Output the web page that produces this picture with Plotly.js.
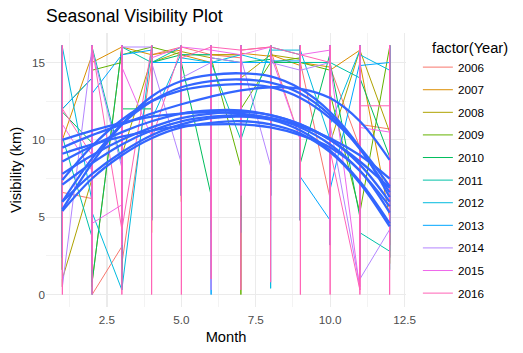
<!DOCTYPE html>
<html>
<head>
<meta charset="utf-8">
<script src="https://cdn.plot.ly/plotly-3.0.1.min.js"></script>
<style>html,body{margin:0;padding:0;background:#fff;}#chart{width:523px;height:353px;}</style>
</head>
<body>
<div id="chart"></div>
<script>
// ---- data ----
const months = [1, 2, 3, 4, 5, 6, 7, 8, 9, 10, 11, 12];
const years = ['2006', '2007', '2008', '2009', '2010', '2011', '2012', '2013', '2014', '2015', '2016'];
const yearColors = ['#F8766D', '#DB8E00', '#AEA200', '#64B200', '#00BD5C', '#00C1A7', '#00BADE', '#00A6FF', '#B385FF', '#EF67EB', '#FF63B6'];

// visibility (km) observed in each month, in data order: one list per month
const vis2006 = [[9.7,16.1,3.2,6.6],[6.2,16.1,0,0],[3.1,16.1,0.5,2],[15,16.1,4.8,15.5],[16,16.1,8,16],[15.5,16.1,6.4,15.5],[15.3,16.1,4.8,15.8],[16,16.1,8,15.8],[10,16.1,4.8,15],[6.2,16.1,3.2,14.7],[9.5,16.1,1.6,11],[10.7,16.1,2.4,8]];
const vis2007 = [[12,16.1,1.6,10],[15.5,16.1,3.2,15],[16,16.1,1.6,16],[15.5,16.1,4,15.5],[15.8,16.1,6,15.5],[15,16.1,8,15.5],[15.5,16.1,6.4,15.6],[15.4,16.1,8,15.5],[14.8,16.1,4.8,15],[14.7,16.1,3.2,14.5],[15.8,16.1,1.6,15],[5,16.1,2,9]];
const vis2008 = [[11,16.1,0.5,1],[7.5,16.1,0.5,0.8],[16,16.1,2,9],[15.3,16.1,5,15],[15.7,16.1,6.4,15.7],[15.3,16.1,8,15.5],[15.5,16.1,5,14],[15.5,16.1,8,15.5],[15.2,16.1,6.4,15],[15,16.1,4,9.8],[15.8,16.1,2.4,15.8],[10.5,16.1,3.2,12]];
const vis2009 = [[3.7,16.1,1.6,12],[14,16.1,2.4,14.5],[15,16.1,3.2,15.5],[16,16.1,6.4,16],[15.5,16.1,8,15.5],[15.5,16.1,6.4,15.3],[8.2,16.1,0,12],[15,16.1,6.4,15],[15.3,16.1,4.8,15],[14.5,16.1,4,13],[5.3,16.1,1.6,5.3],[16,16.1,3.2,11]];
const vis2010 = [[6,16.1,2.4,11.8],[9.8,16.1,0.8,0.8],[16,16.1,1.6,12],[12,16.1,4.8,15],[15.5,16.1,6.4,15],[6.4,16.1,4,15.3],[15,16.1,6.4,15],[15.2,16.1,8,15],[15,16.1,4.8,8.5],[15.6,16.1,4,15],[5,16.1,2.4,14],[8.9,16.1,2.4,7]];
const vis2011 = [[8,16.1,1.6,10.2],[3.7,16.1,1.6,16],[8.5,16.1,3.2,16],[15,16.1,6.4,15],[16,16.1,8,15.5],[15.5,16.1,6.4,15],[10,16.1,4,10],[16,16.1,6.4,16],[15.5,16.1,4.8,15],[15,16.1,4,15],[14,16.1,1.6,4],[2.8,16.1,1.6,8]];
const vis2012 = [[7,16.1,2.4,16],[6,16.1,0,5.3],[0.3,16.1,0.3,0.3],[16,16.1,4.8,11.3],[15.6,16.1,6.4,15.3],[15,16.1,8,15],[15.5,16.1,6.4,15.5],[15,16.1,0.4,15.8],[15.8,16.1,4.8,15.8],[10,16.1,4,11],[15.8,16.1,2.4,15.5],[14.5,16.1,4,9]];
const vis2013 = [[5,16.1,2.4,12],[14,16.1,1.6,13],[15.5,16.1,2.4,15.5],[15.8,16.1,4.8,15],[15,16.1,6.4,15],[15,16.1,0,15],[15,16.1,6.4,15],[15,16.1,6.4,15.1],[15.1,16.1,4.8,7.6],[4.8,16.1,3.2,6.8],[15,16.1,1.6,14.8],[15,16.1,4,10]];
const vis2014 = [[9,16.1,0.5,0.5],[16,16.1,3.2,15.8],[8.2,16.1,4,16],[16,16.1,6.4,15],[8.5,16.1,6.4,14],[15,16.1,0.3,15.3],[15,16.1,6.4,15.3],[8.3,16.1,4.8,15],[14.5,16.1,4.8,14.5],[15,16.1,3.2,11],[0.5,16.1,0.5,1],[4.2,16.1,2.4,8]];
const vis2015 = [[7,16.1,2.4,11],[8,16.1,1.6,4.6],[5.8,16.1,3.2,14.7],[10.2,16.1,4.8,15.3],[16,16.1,6.4,16],[15.8,16.1,4.8,15.8],[15.5,16.1,6.4,15.5],[16,16.1,6.4,15.5],[10,16.1,4.8,15.5],[15.8,16.1,4,15],[0.3,16.1,0.3,10.8],[10.5,16.1,3.2,9]];
const vis2016 = [[6,16.1,0,12],[9,0,16.1,16],[4.2,16.1,0,4.2],[16,0,16.1,10],[16,0,16.1,15.3],[16,1.0,16.1,16],[15.8,0.3,16.1,15.8],[16,0.8,16.1,16],[15.5,0,16.1,15.5],[15,0,16.1,9.3],[0.3,16.1,0,12.2],[12.2,0,16.1,10]];

// smoothed (loess) visibility per year, read at each month
const fit01 = [5.5, 8.5, 11.0, 12.8, 13.8, 14.2, 14.3, 14.1, 13.3, 11.8, 9.5, 6.3];
const fit02 = [6.0, 8.8, 11.0, 12.5, 13.4, 13.8, 13.9, 13.7, 13.0, 11.6, 9.4, 6.6];
const fit03 = [7.4, 9.6, 11.3, 12.5, 13.2, 13.5, 13.6, 13.4, 12.7, 11.4, 9.5, 7.0];
const fit04 = [9.5, 10.3, 11.0, 11.7, 12.3, 12.8, 13.2, 13.4, 13.3, 12.7, 11.2, 8.7];
const fit05 = [8.6, 9.6, 10.5, 11.2, 11.7, 11.9, 11.9, 11.6, 11.0, 10.0, 8.6, 6.9];
const fit06 = [10.0, 10.6, 11.1, 11.5, 11.7, 11.8, 11.7, 11.4, 10.9, 10.1, 9.0, 7.5];
const fit07 = [7.8, 9.0, 10.0, 10.8, 11.4, 11.7, 11.8, 11.6, 11.0, 10.0, 8.4, 6.0];
const fit08 = [7.1, 8.5, 9.7, 10.6, 11.2, 11.5, 11.6, 11.4, 10.8, 9.7, 8.0, 5.7];
const fit09 = [6.0, 7.8, 9.2, 10.3, 11.0, 11.4, 11.5, 11.3, 10.6, 9.3, 7.3, 4.6];
const fit10 = [9.1, 9.7, 10.2, 10.6, 10.9, 11.0, 11.0, 10.8, 10.3, 9.5, 8.0, 5.3];
const fit11 = [5.4, 7.5, 9.0, 10.1, 10.8, 11.1, 11.2, 11.0, 10.4, 9.2, 7.2, 4.4];

const xTickVals = [2.5, 5, 7.5, 10, 12.5];
const xTickText = ['2.5', '5.0', '7.5', '10.0', '12.5'];
const yTickVals = [0, 5, 10, 15];
const yTickText = ['0', '5', '10', '15'];

// ---- build traces ----
const visByYear = [vis2006, vis2007, vis2008, vis2009, vis2010, vis2011, vis2012, vis2013, vis2014, vis2015, vis2016];
const fits = [fit01, fit02, fit03, fit04, fit05, fit06, fit07, fit08, fit09, fit10, fit11];

const traces = [];
years.forEach((yr, i) => {
  const xs = [], ys = [];
  visByYear[i].forEach((vals, m) => {
    vals.forEach(v => { xs.push(months[m]); ys.push(v); });
  });
  traces.push({
    type: 'scatter', mode: 'lines', x: xs, y: ys, name: yr,
    legendgroup: yr,
    line: {color: yearColors[i], width: 1},
    hoverinfo: 'skip'
  });
});
fits.forEach(f => {
  traces.push({
    type: 'scatter', mode: 'lines', x: months, y: f, showlegend: false,
    line: {color: '#3366FF', width: 2.3, shape: 'spline', smoothing: 1},
    hoverinfo: 'skip'
  });
});

const gridCol = '#EBEBEB';
const layout = {
  width: 523, height: 353,
  margin: {l: 46, r: 113, t: 33, b: 46, pad: 0},
  paper_bgcolor: '#ffffff', plot_bgcolor: '#ffffff',
  font: {family: 'Liberation Sans, Arial, sans-serif', color: '#000000'},
  showlegend: true,
  title: {
    text: 'Seasonal Visibility Plot',
    x: 0, xref: 'paper', xanchor: 'left',
    y: 1 - 16 / 353, yref: 'container', yanchor: 'middle',
    font: {size: 17.6, color: '#000000'}
  },
  xaxis: {
    range: [0.45, 12.55],
    tickvals: xTickVals, ticktext: xTickText,
    showgrid: true, gridcolor: gridCol, gridwidth: 1.1,
    zeroline: false, showline: false, ticks: '',
    ticklabelstandoff: 4,
    tickfont: {size: 11.7, color: '#4D4D4D'},
    title: {text: 'Month', font: {size: 14.67, color: '#000000'}, standoff: 7},
    minor: {tickvals: [1.25, 3.75, 6.25, 8.75, 11.25], showgrid: true, gridcolor: gridCol, gridwidth: 0.6, ticks: ''}
  },
  yaxis: {
    range: [-0.805, 16.905],
    tickvals: yTickVals, ticktext: yTickText,
    showgrid: true, gridcolor: gridCol, gridwidth: 1.1,
    zeroline: false, showline: false, ticks: '',
    tickfont: {size: 11.7, color: '#4D4D4D'},
    title: {text: 'Visibility (km)', font: {size: 14.67, color: '#000000'}, standoff: 6},
    minor: {tickvals: [2.5, 7.5, 12.5], showgrid: true, gridcolor: gridCol, gridwidth: 0.6, ticks: ''}
  },
  legend: {
    x: 1.033, xanchor: 'left', y: 0.998, yanchor: 'top',
    maxheight: 1,
    title: {text: '\u00a0\u00a0\u00a0factor(Year)', font: {size: 14.67, color: '#000000'}},
    font: {size: 11.7, color: '#000000'},
    tracegroupgap: 3.6,
    traceorder: 'grouped',
    bgcolor: 'rgba(0,0,0,0)'
  }
};

Plotly.newPlot('chart', traces, layout, {displayModeBar: false, staticPlot: true});
</script>
</body>
</html>
